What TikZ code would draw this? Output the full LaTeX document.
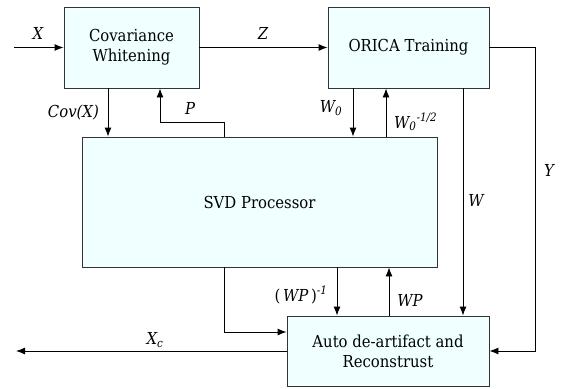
\documentclass[tikz,border=0pt]{standalone}
\usepackage{fontspec}
\setmainfont{DejaVu Serif Condensed}
\usepackage{tikz}
\usetikzlibrary{arrows.meta}
\usetikzlibrary{positioning}
\usetikzlibrary{calc}
\definecolor{boxfill}{RGB}{240,255,255}
\tikzset{
    box/.style={
        rectangle,
        draw=black!80,
        fill=boxfill,
        line width=0.9pt,
        align=center,
        inner sep=0pt,
        font=\rmfamily\fontsize{16.5}{20}\selectfont
    },
    arrow/.style={
        -{Latex[length=9pt,width=7pt]},
        line width=0.9pt,
        draw=black
    },
    sig/.style={
        inner sep=0pt,
        font=\rmfamily\fontsize{16.5}{20}\selectfont\itshape
    }
}

\begin{document}
\begin{tikzpicture}[x=1pt,y=-1pt]
\useasboundingbox (0,0) rectangle (564,388);
% blocks
\node[box, minimum width=135pt, minimum height=81pt] (cw) at (131.5,47.5) {Covariance\\Whitening};
\node[box, minimum width=161pt, minimum height=81pt] (orica) at (408.5,47.5) {ORICA Training};
\node[box, minimum width=355pt, minimum height=130pt] (svd) at (259.5,202) {SVD Processor};
\node[box, minimum width=202pt, minimum height=70pt] (auto) at (388,351) {Auto de-artifact and\\Reconstrust};
% columns and rows used by the wires
\coordinate (xa) at (108,0);
\coordinate (xb) at (160,0);
\coordinate (xc) at (224,0);
\coordinate (xd) at (353,0);
\coordinate (xe) at (386,0);
\coordinate (xf) at (463,0);
\coordinate (xg) at (535,0);
\coordinate (xh) at (337,0);
\coordinate (xi) at (389,0);
\coordinate (yp) at (0,122);
\coordinate (yq) at (0,332);
\coordinate (xin) at (14,47.5);
\coordinate (xout) at (16,351);
% wires
\draw[arrow] (xin) -- (cw.west);
\draw[arrow] (cw.east) -- (orica.west);
\draw[arrow] (xa |- cw.south) -- (xa |- svd.north);
\draw[arrow] (xc |- svd.north) -- (xc |- yp) -- (xb |- yp) -- (xb |- cw.south);
\draw[arrow] (xd |- orica.south) -- (xd |- svd.north);
\draw[arrow] (xe |- svd.north) -- (xe |- orica.south);
\draw[arrow] (xf |- orica.south) -- (xf |- auto.north);
\draw[arrow] (orica.east) -- (xg |- orica.east) -- (xg |- auto.east) -- (auto.east);
\draw[arrow] (xh |- svd.south) -- (xh |- auto.north);
\draw[arrow] (xi |- auto.north) -- (xi |- svd.south);
\draw[arrow] (xc |- svd.south) -- (xc |- yq) -- (auto.west |- yq);
\draw[arrow] (auto.west) -- (xout);
% labels
\node[sig] (lx) at (38,33) {X};
\node[sig] (lz) at (263,33) {Z};
\node[sig, anchor=east] (lcov) at (99,113) {Cov(X)};
\node[sig] (lp) at (190,108) {P};
\node[sig] (lw0) at (331,108) {W\textsubscript{0}};
\node[sig, anchor=west] (lw0i) at (394,122) {W\textsubscript{0}\textsuperscript{-1/2}};
\node[sig] (lw) at (476,200) {W};
\node[sig] (ly) at (549,170) {Y};
\node[sig] (lwpi) at (301,295) {\upshape(\,\itshape WP\upshape\,)\itshape\textsuperscript{-1}};
\node[sig] (lwp) at (410,300) {WP};
\node[sig] (lxc) at (155,340) {X\textsubscript{c}};
\end{tikzpicture}
\end{document}
